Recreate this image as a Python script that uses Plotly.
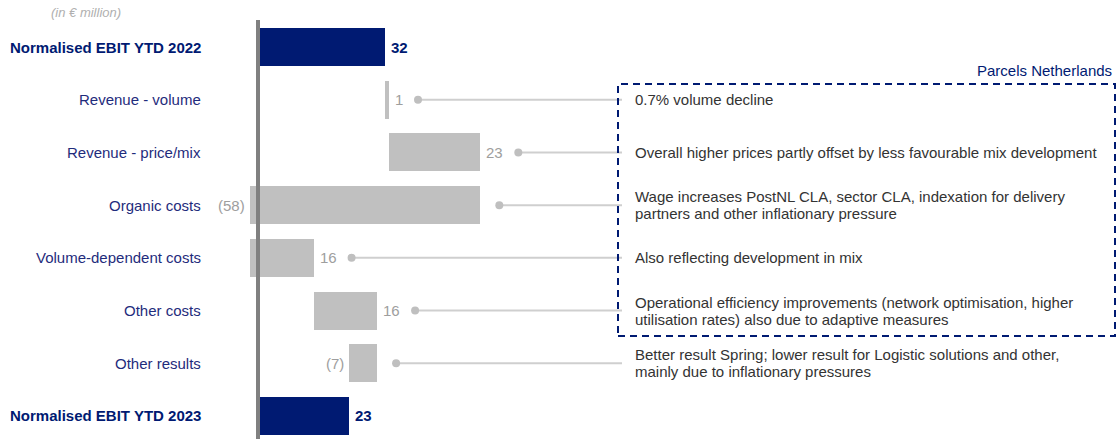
import plotly.graph_objects as go

# ---------------- data ----------------
categories = ["Normalised EBIT YTD 2022", "Revenue - volume", "Revenue - price/mix",
              "Organic costs", "Volume-dependent costs", "Other costs",
              "Other results", "Normalised EBIT YTD 2023"]
values = [32, 1, 23, -58, 16, 16, -7, 23]
is_total = [True, False, False, False, False, False, False, True]
comments = ["", "0.7% volume decline",
            "Overall higher prices partly offset by less favourable mix development",
            "Wage increases PostNL CLA, sector CLA, indexation for delivery<br>partners and other inflationary pressure",
            "Also reflecting development in mix",
            "Operational efficiency improvements (network optimisation, higher<br>utilisation rates) also due to adaptive measures",
            "Better result Spring; lower result for Logistic solutions and other,<br>mainly due to inflationary pressures",
            ""]
unit_note = "(in € million)"
box_title = "Parcels Netherlands"

# ---------------- styles / layout ----------------
W, H = 1118, 439
X0_PX = 258          # pixel of value 0
PX_PER_UNIT = 3.97
ROW0_PX = 47
ROW_STEP = 52.71
LINE_SPACING = 17
NAVY = "#001A72"
LABEL_BLUE = "#1F2C7C"
GREY_BAR = "#C0C0C0"
GREY_TXT = "#9E9E9E"
FONT = "Liberation Sans, Arial, sans-serif"


def px2x(px):
    return (px - X0_PX) / PX_PER_UNIT


def fmt(v):
    return f"({abs(v)})" if v < 0 else f"{v}"


# waterfall bases
bases, lengths = [], []
running = 0
for v, t in zip(values, is_total):
    if t:
        bases.append(0)
        lengths.append(v)
        running = v
    else:
        bases.append(running)
        lengths.append(v)
        running += v

ys = list(range(len(categories)))
colors = [NAVY if t else GREY_BAR for t in is_total]

fig = go.Figure()
fig.add_trace(go.Bar(
    y=ys, x=lengths, base=bases, orientation="h",
    marker=dict(color=colors, line=dict(width=0)),
    width=0.72, hoverinfo="skip", showlegend=False,
))

annotations = []
shapes = []
dot_x, dot_y = [], []

for i, (cat, v, b, t) in enumerate(zip(categories, values, bases, is_total)):
    # category label
    annotations.append(dict(
        x=203 / W, xref="paper", y=i, yref="y", xanchor="right", yanchor="middle",
        text=f"<b>{cat}</b>" if t else cat, showarrow=False,
        font=dict(family=FONT, size=15, color=NAVY if t else LABEL_BLUE),
    ))
    lo, hi = min(b, b + v), max(b, b + v)
    label_right = t or v > 0
    if label_right:
        annotations.append(dict(
            x=hi, y=i, xanchor="left", yanchor="middle", xshift=4,
            text=f"<b>{fmt(v)}</b>" if t else fmt(v), showarrow=False,
            font=dict(family=FONT, size=15, color=NAVY if t else GREY_TXT),
        ))
    else:
        annotations.append(dict(
            x=lo, y=i, xanchor="right", yanchor="middle", xshift=-3,
            text=fmt(v), showarrow=False,
            font=dict(family=FONT, size=15, color=GREY_TXT),
        ))
    if comments[i]:
        gap_px = (20 + 9 * len(fmt(v))) if label_right else 19
        dx = hi + gap_px / PX_PER_UNIT
        dot_x.append(dx)
        dot_y.append(i)
        shapes.append(dict(type="line", x0=dx, x1=px2x(622), y0=i, y1=i,
                           xref="x", yref="y",
                           line=dict(color="#CFCFCF", width=2), layer="below"))
        lines = comments[i].split("<br>")
        n = len(lines)
        for k, ln in enumerate(lines):
            annotations.append(dict(
                x=px2x(633), y=i, xanchor="left", yanchor="middle", align="left",
                yshift=-(k - (n - 1) / 2) * LINE_SPACING,
                text=ln, showarrow=False,
                font=dict(family=FONT, size=15, color="#333333"),
            ))

fig.add_trace(go.Scatter(
    x=dot_x, y=dot_y, mode="markers",
    marker=dict(size=8, color="#BFBFBF"), hoverinfo="skip", showlegend=False,
))

# zero axis line
shapes.append(dict(type="line", x0=0, x1=0, y0=0, y1=1 - 20 / H, xref="x", yref="paper",
                   line=dict(color="#808080", width=4)))
# dashed box
shapes.append(dict(type="rect", x0=618 / W, x1=1115 / W, y0=1 - 336 / H, y1=1 - 84 / H,
                   xref="paper", yref="paper",
                   line=dict(color=NAVY, width=2, dash="7px,5px")))

annotations.append(dict(x=1114 / W, y=1 - 70 / H, xref="paper", yref="paper",
                        xanchor="right", yanchor="middle", text=box_title, showarrow=False,
                        font=dict(family=FONT, size=15, color=NAVY)))
annotations.append(dict(x=49 / W, y=1 - 13 / H, xref="paper", yref="paper",
                        xanchor="left", yanchor="middle", text=f"<i>{unit_note}</i>",
                        showarrow=False, font=dict(family=FONT, size=13, color="#B0B0B0")))

y_top = -ROW0_PX / ROW_STEP
y_bot = 7 + (H - (ROW0_PX + 7 * ROW_STEP)) / ROW_STEP

fig.update_layout(
    width=W, height=H, margin=dict(l=0, r=0, t=0, b=0),
    paper_bgcolor="white", plot_bgcolor="white",
    xaxis=dict(range=[px2x(0), px2x(W)], visible=False, fixedrange=True),
    yaxis=dict(range=[y_bot, y_top], visible=False, fixedrange=True),
    shapes=shapes, annotations=annotations, bargap=0,
)

fig.write_html("out.html", config={"displayModeBar": False},
               post_script="document.body.style.margin='0';document.body.style.overflow='hidden';")
